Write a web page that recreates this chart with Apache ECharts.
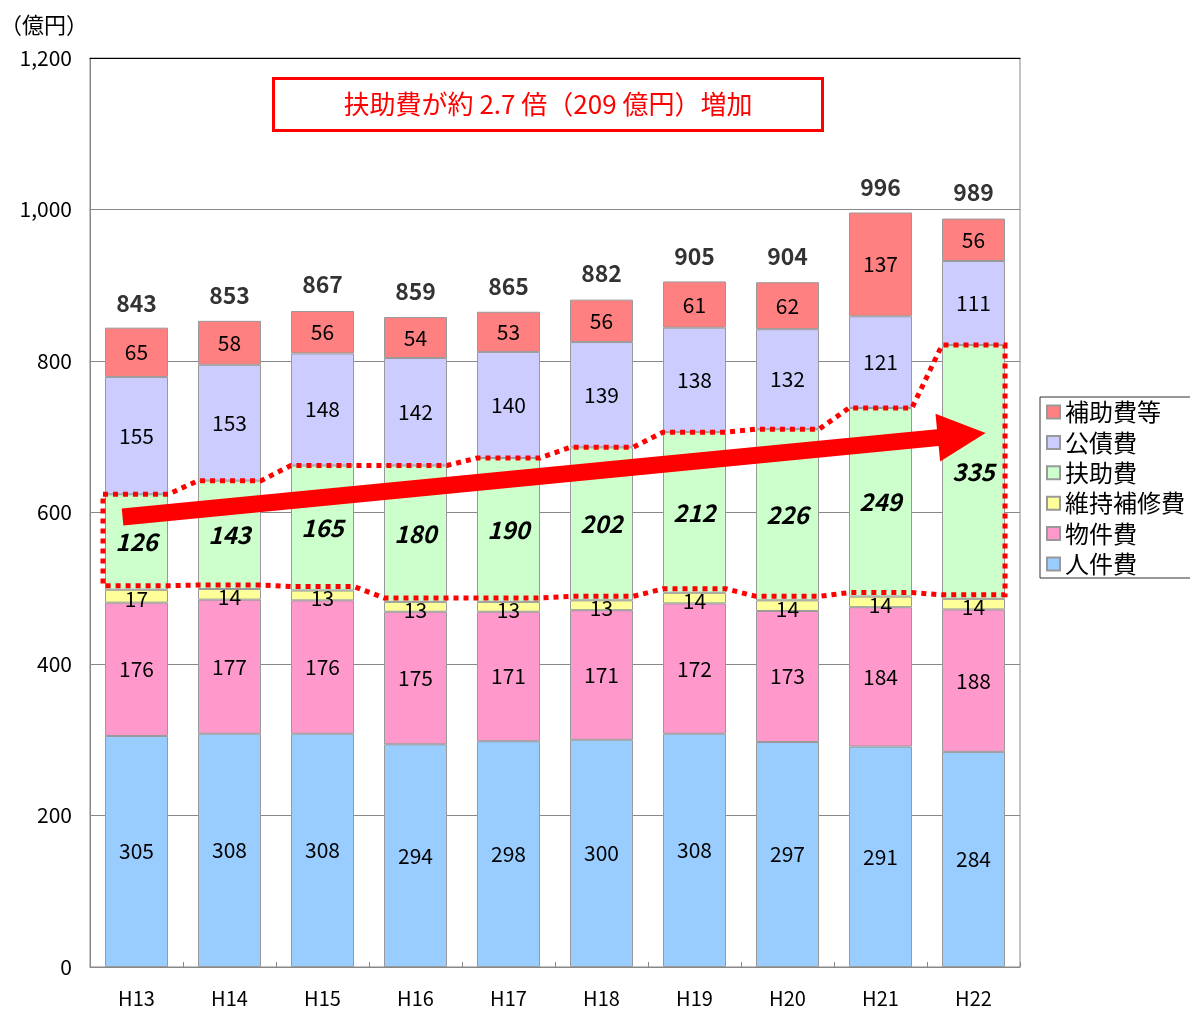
<!DOCTYPE html>
<html>
<head>
<meta charset="utf-8">
<script src="https://cdn.jsdelivr.net/npm/echarts@6/dist/echarts.min.js"></script>
<style>
  html, body { margin: 0; padding: 0; background: #fff; }
  #chart { width: 1190px; height: 1010px; }
</style>
</head>
<body>
<div id="chart"></div>
<script>
// 年度
const years = ['H13', 'H14', 'H15', 'H16', 'H17', 'H18', 'H19', 'H20', 'H21', 'H22'];

// 費目別歳出（億円）
const jinkenhi   = [305, 308, 308, 294, 298, 300, 308, 297, 291, 284]; // 人件費
const bukkenhi   = [176, 177, 176, 175, 171, 171, 172, 173, 184, 188]; // 物件費
const ijihoshu   = [17, 14, 13, 13, 13, 13, 14, 14, 14, 14];           // 維持補修費
const fujohi     = [126, 143, 165, 180, 190, 202, 212, 226, 249, 335]; // 扶助費
const kosaihi    = [155, 153, 148, 142, 140, 139, 138, 132, 121, 111]; // 公債費
const hojohi     = [65, 58, 56, 54, 53, 56, 61, 62, 137, 56];          // 補助費等
const totals     = [843, 853, 867, 859, 865, 882, 905, 904, 996, 989]; // 合計

// 目盛
const yMin = 0, yMax = 1200, yStep = 200;

// 矢印の始点・終点（年度位置, 億円）
const arrowFrom = [-0.15, 594];
const arrowTo   = [9.13, 705];

const FONT = '"Noto Sans CJK JP", "Noto Sans", sans-serif';
const BAR_W = 63;

const colors = {
  jinkenhi: '#99CCFF',
  bukkenhi: '#FF99CC',
  ijihoshu: '#FFFF99',
  fujohi:   '#CCFFCC',
  kosaihi:  '#CCCCFF',
  hojohi:   '#FF8080'
};

function stackSeries(name, data, color, labelStyle) {
  return {
    name: name,
    type: 'bar',
    stack: 'total',
    data: data,
    barWidth: BAR_W,
    itemStyle: { color: color, borderColor: '#999', borderWidth: 1 },
    label: Object.assign({
      show: true,
      position: 'inside',
      color: '#000',
      fontFamily: FONT,
      fontSize: 21
    }, labelStyle || {}),
    emphasis: { disabled: true },
    animation: false
  };
}

const chart = echarts.init(document.getElementById('chart'), null, { renderer: 'canvas' });

chart.setOption({
  animation: false,
  textStyle: { fontFamily: FONT },
  grid: {
    left: 90, right: 170, top: 58, bottom: 43,
    outerBoundsMode: 'none',
    containLabel: false,
    show: true, borderColor: '#888', borderWidth: 1
  },
  legend: {
    orient: 'vertical',
    left: 1040, top: 397,
    data: ['補助費等', '公債費', '扶助費', '維持補修費', '物件費', '人件費'],
    itemWidth: 13, itemHeight: 13,
    itemGap: 6.4,
    icon: 'rect',
    borderColor: '#333', borderWidth: 1,
    padding: [3, 30, 2, 6],
    textStyle: { fontFamily: FONT, fontSize: 24, lineHeight: 24, color: '#000' },
    selectedMode: false
  },
  xAxis: [{
    type: 'category',
    data: years,
    axisLine: { lineStyle: { color: '#888', width: 1 } },
    axisTick: { show: true, inside: true, length: 5, lineStyle: { color: '#888' } },
    axisLabel: { color: '#000', fontFamily: FONT, fontSize: 20, margin: 21 }
  }, {
    type: 'category',
    data: years,
    position: 'top',
    axisLine: { lineStyle: { color: '#000', width: 1 } },
    axisTick: { show: false },
    axisLabel: { show: false }
  }],
  yAxis: {
    type: 'value',
    min: yMin, max: yMax, interval: yStep,
    name: '（億円）',
    nameLocation: 'end',
    nameGap: 22,
    nameTextStyle: { color: '#000', fontFamily: FONT, fontSize: 22, align: 'right', padding: [0, 2, 0, 0] },
    axisLine: { show: true, lineStyle: { color: '#888' } },
    axisTick: { show: false },
    splitLine: { lineStyle: { color: '#888', width: 1 } },
    axisLabel: {
      color: '#000', fontFamily: FONT, fontSize: 21, margin: 18,
      formatter: v => v.toLocaleString('en-US')
    }
  },
  series: [
    stackSeries('人件費', jinkenhi, colors.jinkenhi),
    stackSeries('物件費', bukkenhi, colors.bukkenhi),
    stackSeries('維持補修費', ijihoshu, colors.ijihoshu, { offset: [0, 3] }),
    stackSeries('扶助費', fujohi, colors.fujohi, { fontSize: 24, fontWeight: 'bold', fontStyle: 'italic' }),
    stackSeries('公債費', kosaihi, colors.kosaihi),
    stackSeries('補助費等', hojohi, colors.hojohi),
    {
      name: '合計',
      type: 'scatter',
      data: totals,
      symbolSize: 0,
      silent: true,
      label: {
        show: true, position: 'top', distance: 14,
        color: '#000', fontFamily: FONT, fontSize: 23, fontWeight: 'bold'
      },
      z: 5
    }
  ]
});

// 扶助費の範囲を囲む点線と増加を示す矢印
function drawOverlays() {
  const toPx = (i, y) => chart.convertToPixel({ xAxisIndex: 0, yAxisIndex: 0 }, [i, y]);
  // 年度位置は小数でも扱えるように、隣り合う年度の間隔から横位置を求める
  const x0 = toPx(0, 0)[0];
  const step = toPx(1, 0)[0] - x0;
  const xAt = pos => x0 + pos * step;
  const yAt = v => toPx(0, v)[1];
  const half = BAR_W / 2;

  const top = [], bottom = [];
  for (let i = 0; i < years.length; i++) {
    const base = jinkenhi[i] + bukkenhi[i] + ijihoshu[i];
    const upper = base + fujohi[i];
    const cx = xAt(i);
    const lx = cx - half - (i === 0 ? 2 : 0);
    const rx = cx + half;
    top.push([lx, yAt(upper)], [rx, yAt(upper)]);
    bottom.push([lx, yAt(base) - 4], [rx, yAt(base) - 4]);
  }
  const outline = top.concat(bottom.reverse());

  // 矢印
  const a = [xAt(arrowFrom[0]), yAt(arrowFrom[1])];
  const b = [xAt(arrowTo[0]), yAt(arrowTo[1])];
  const dx = b[0] - a[0], dy = b[1] - a[1];
  const len = Math.hypot(dx, dy);
  const ux = dx / len, uy = dy / len;
  const nx = -uy, ny = ux;
  const shaftHalf = 8.5, headHalf = 24, headLen = 48;
  const hb = [b[0] - ux * headLen, b[1] - uy * headLen];
  const arrowPts = [
    [a[0] + nx * shaftHalf, a[1] + ny * shaftHalf],
    [hb[0] + nx * shaftHalf, hb[1] + ny * shaftHalf],
    [hb[0] + nx * headHalf, hb[1] + ny * headHalf],
    [b[0], b[1]],
    [hb[0] - nx * headHalf, hb[1] - ny * headHalf],
    [hb[0] - nx * shaftHalf, hb[1] - ny * shaftHalf],
    [a[0] - nx * shaftHalf, a[1] - ny * shaftHalf]
  ];

  chart.setOption({
    graphic: [
      {
        type: 'polygon',
        shape: { points: outline },
        style: { fill: 'none', stroke: '#FF0000', lineWidth: 5, lineDash: [5, 5], lineCap: 'butt' },
        silent: true,
        z: 10
      },
      {
        type: 'polygon',
        shape: { points: arrowPts },
        style: { fill: '#FF0000', stroke: 'none' },
        silent: true,
        z: 11
      },
      {
        type: 'rect',
        shape: { x: 273.5, y: 78.5, width: 549, height: 52 },
        style: { fill: '#fff', stroke: '#FF0000', lineWidth: 3 },
        silent: true,
        z: 10
      },
      {
        type: 'text',
        x: 548, y: 104,
        style: {
          text: '扶助費が約 2.7 倍（209 億円）増加',
          fill: '#FF0000',
          font: '26px ' + FONT,
          align: 'center',
          verticalAlign: 'middle'
        },
        silent: true,
        z: 11
      }
    ]
  });
}

drawOverlays();
</script>
</body>
</html>
